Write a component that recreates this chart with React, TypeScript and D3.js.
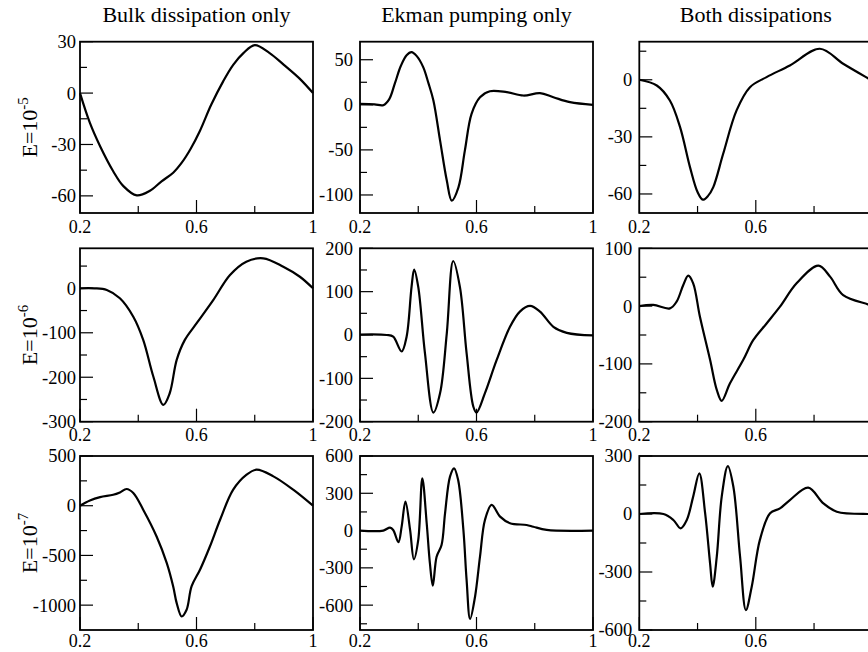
import React from "react";
import * as d3 from "d3";

// ---- Data ----
const colTitles = ["Bulk dissipation only", "Ekman pumping only", "Both dissipations"];
const rowExponents = ["-5", "-6", "-7"];
const xTickValues = [0.2, 0.6, 1];
const xMinorTicks = [0.4, 0.8];

// Row 1 (E=1e-5)
const bulk5X = [0.2, 0.234, 0.269, 0.314, 0.349, 0.395, 0.44, 0.48, 0.52, 0.55, 0.58, 0.612, 0.65, 0.692, 0.726, 0.761, 0.80, 0.85, 0.9, 0.955, 1.0];
const bulk5Y = [0, -17.4, -31, -45.6, -54.3, -59.7, -57, -51.5, -46.5, -40.5, -32.5, -22, -7, 7, 16.5, 23.3, 28, 23.5, 16.5, 8.3, 0];
const ekman5X = [0.2, 0.25, 0.28, 0.30, 0.32, 0.34, 0.36, 0.377, 0.395, 0.417, 0.435, 0.452, 0.475, 0.498, 0.515, 0.538, 0.56, 0.583, 0.612, 0.646, 0.704, 0.761, 0.818, 0.864, 0.921, 1.0];
const ekman5Y = [1, 0.5, -0.4, 6, 24, 43, 55, 58.4, 54, 41.8, 24, 4.8, -39.7, -84, -106.3, -91.5, -50.8, -10, 8.4, 15.1, 14, 10.3, 12.9, 8.4, 2.9, 0];
const both5X = [0.2, 0.26, 0.305, 0.34, 0.374, 0.40, 0.418, 0.436, 0.454, 0.488, 0.534, 0.58, 0.637, 0.717, 0.82, 0.9, 0.985, 1.0];
const both5Y = [0, -3, -10.9, -24.9, -45.9, -59, -63, -61, -56.4, -38.9, -16.1, -3.9, 1.4, 7.5, 16.3, 8.4, 0.8, -0.5];

// Row 2 (E=1e-6)
const bulk6X = [0.2, 0.25, 0.292, 0.337, 0.383, 0.417, 0.452, 0.486, 0.508, 0.532, 0.56, 0.60, 0.658, 0.715, 0.771, 0.829, 0.898, 0.955, 1.0];
const bulk6Y = [0, 0, -3.8, -22.5, -63.9, -116, -199, -262, -236, -161, -116, -79, -26, 30, 60, 67.5, 48.6, 26, 0];
const ekman6X = [0.2, 0.292, 0.314, 0.343, 0.36, 0.377, 0.386, 0.40, 0.423, 0.452, 0.475, 0.498, 0.52, 0.543, 0.566, 0.589, 0.60, 0.629, 0.669, 0.715, 0.749, 0.784, 0.818, 0.864, 0.91, 1.0];
const ekman6Y = [1, 0, -4, -38, -4, 111, 151, 111, -42, -179, -134, 4, 170.7, 111, -42, -165, -179, -134, -58, 19, 54, 67, 54, 19, 5, -1];
const both6X = [0.2, 0.248, 0.305, 0.328, 0.351, 0.368, 0.385, 0.408, 0.443, 0.466, 0.483, 0.511, 0.557, 0.591, 0.637, 0.683, 0.74, 0.815, 0.855, 0.90, 0.985, 1.0];
const both6Y = [0, 2, -4, 7.6, 36.5, 52.6, 39.4, -18, -93, -145, -164, -134, -93, -59, -30, -1, 39.4, 70, 51, 19, 3, 0];

// Row 3 (E=1e-7)
const bulk7X = [0.2, 0.234, 0.269, 0.314, 0.337, 0.36, 0.383, 0.417, 0.463, 0.498, 0.52, 0.532, 0.549, 0.566, 0.583, 0.612, 0.646, 0.681, 0.726, 0.772, 0.806, 0.864, 0.932, 1.0];
const bulk7Y = [0, 53, 87, 110, 134, 168, 128, -40, -309, -577, -812, -980, -1114, -1047, -812, -644, -410, -141, 161, 312, 362, 295, 161, 0];
const ekman7X = [0.2, 0.28, 0.303, 0.314, 0.332, 0.343, 0.356, 0.372, 0.385, 0.40, 0.414, 0.429, 0.44, 0.45, 0.463, 0.48, 0.492, 0.509, 0.523, 0.537, 0.555, 0.566, 0.578, 0.595, 0.612, 0.629, 0.652, 0.681, 0.715, 0.772, 0.795, 0.841, 1.0];
const ekman7Y = [0, 0, 24, 5, -94, 32, 233, 5, -231, -75, 421, 59, -263, -443, -210, -116, 139, 434, 501, 407, 5, -397, -711, -532, -210, 85, 206, 112, 59, 45, 31, 5, 0];
const both7X = [0.2, 0.283, 0.317, 0.342, 0.363, 0.385, 0.406, 0.426, 0.443, 0.452, 0.466, 0.483, 0.504, 0.523, 0.546, 0.566, 0.586, 0.614, 0.649, 0.683, 0.717, 0.78, 0.832, 0.878, 0.985, 1.0];
const both7Y = [0, 0, -31, -74, -31, 90, 210, 4, -255, -376, -221, 90, 248, 141, -221, -497, -376, -134, 4, 29, 72, 136, 55, 12, 0, 0];

// Axis domains and ticks per panel (row-major)
const yDomains: [number, number][] = [
  [-70, 30], [-120, 70], [-70, 20],
  [-300, 90], [-200, 200], [-200, 100],
  [-1250, 500], [-800, 600], [-600, 300],
];
const yMajorTicks = [
  [-60, -30, 0, 30], [-100, -50, 0, 50], [-60, -30, 0],
  [-300, -200, -100, 0], [-200, -100, 0, 100, 200], [-200, -100, 0, 100],
  [-1000, -500, 0, 500], [-600, -300, 0, 300, 600], [-600, -300, 0, 300],
];
const yMinorTicks = [
  [-45, -15, 15], [-75, -25, 25], [-45, -15, 15],
  [-250, -150, -50, 50], [-150, -50, 50, 150], [-150, -50, 50],
  [-750, -250, 250], [-750, -450, -150, 150, 450], [-450, -150, 150],
];
const seriesX = [bulk5X, ekman5X, both5X, bulk6X, ekman6X, both6X, bulk7X, ekman7X, both7X];
const seriesY = [bulk5Y, ekman5Y, both5Y, bulk6Y, ekman6Y, both6Y, bulk7Y, ekman7Y, both7Y];

// ---- Layout ----
const W = 868, H = 652;
const colLeft = [80, 360, 639.3];
const colWidth = 233;
const labelGap = [4, 7, 7];
const rowTop = [41.7, 248.3, 456];
const rowBottom = [213, 421.7, 630];
const xLabelOffset = [20, 19, 17];
const FONT = "'Liberation Serif', 'Times New Roman', serif";

function Panel({ idx }: { idx: number }) {
  const r = Math.floor(idx / 3), c = idx % 3;
  const x0 = colLeft[c], x1 = colLeft[c] + colWidth;
  const y0 = rowTop[r], y1 = rowBottom[r];
  const xs = d3.scaleLinear().domain([0.2, 1]).range([x0, x1]);
  const ys = d3.scaleLinear().domain(yDomains[idx]).range([y1, y0]);
  const X = seriesX[idx], Y = seriesY[idx];
  const pts: [number, number][] = X.map((x, i) => [x, Y[i]]);
  const line = d3.line<[number, number]>()
    .x(d => xs(d[0]))
    .y(d => ys(d[1]))
    .curve(d3.curveCatmullRom.alpha(0.5));
  return (
    <g>
      <rect x={x0} y={y0} width={x1 - x0} height={y1 - y0} fill="none" stroke="#000" strokeWidth={1.8} />
      {yMajorTicks[idx].map(t => (
        <g key={"ym" + t}>
          <line x1={x0} x2={x0 + 13} y1={ys(t)} y2={ys(t)} stroke="#000" strokeWidth={1.2} />
          <text x={x0 - labelGap[c]} y={ys(t)} dy="0.35em" textAnchor="end" fontSize={18.5} fontFamily={FONT}>{t}</text>
        </g>
      ))}
      {yMinorTicks[idx].map(t => (
        <line key={"yn" + t} x1={x0} x2={x0 + 7} y1={ys(t)} y2={ys(t)} stroke="#000" strokeWidth={1.2} />
      ))}
      {xTickValues.map(t => (
        <g key={"xm" + t}>
          <line x1={xs(t)} x2={xs(t)} y1={y1} y2={y1 - 13} stroke="#000" strokeWidth={1.2} />
          {xs(t) < W - 6 && (
            <text x={xs(t)} y={y1 + xLabelOffset[r]} textAnchor="middle" fontSize={18} fontFamily={FONT}>{t}</text>
          )}
        </g>
      ))}
      {xMinorTicks.map(t => (
        <line key={"xn" + t} x1={xs(t)} x2={xs(t)} y1={y1} y2={y1 - 7} stroke="#000" strokeWidth={1.2} />
      ))}
      <path d={line(pts) || ""} fill="none" stroke="#000" strokeWidth={2.2} strokeLinejoin="round" />
    </g>
  );
}

export default function App() {
  return (
    <svg width={W} height={H} style={{ display: "block", position: "absolute", left: 0, top: 0, background: "#fff" }}>
      <rect x={0} y={0} width={W} height={H} fill="#fff" />
      {colTitles.map((t, c) => (
        <text key={t} x={colLeft[c] + colWidth / 2} y={21.5} textAnchor="middle" fontSize={22} fontFamily={FONT}>{t}</text>
      ))}
      {rowExponents.map((e, r) => (
        <text key={e} transform={`translate(36.5,${(rowTop[r] + rowBottom[r]) / 2}) rotate(-90)`} textAnchor="middle" fontSize={22} fontFamily={FONT}>
          E=10<tspan fontSize={15} dy={-9}>{e}</tspan>
        </text>
      ))}
      {d3.range(9).map(i => <Panel key={i} idx={i} />)}
    </svg>
  );
}
